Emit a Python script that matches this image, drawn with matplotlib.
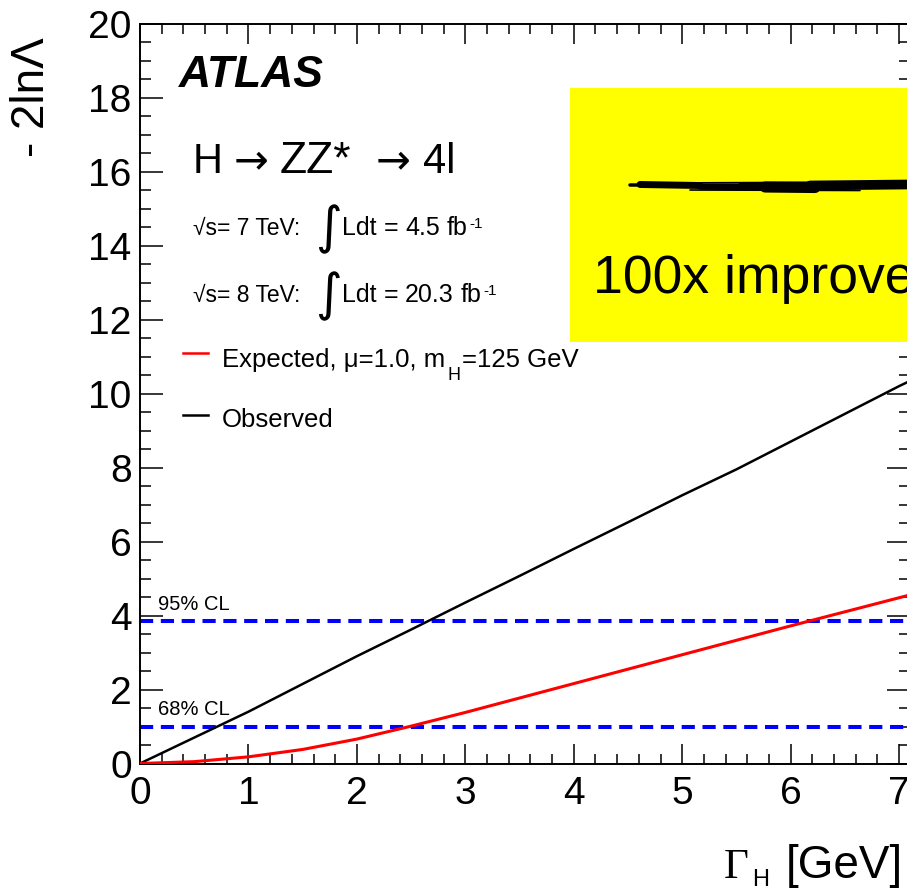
import matplotlib
matplotlib.use("Agg")
import matplotlib.pyplot as plt
from matplotlib.patches import Rectangle
from matplotlib.lines import Line2D
from matplotlib.ticker import MultipleLocator

# Likelihood scan of the Higgs width, H -> ZZ* -> 4l
gamma_h = [0.0, 0.5, 1.0, 1.5, 2.0, 2.5, 3.0, 3.5, 4.0, 4.5, 5.0, 5.5, 6.0, 6.5, 7.0, 7.5]
observed = [0.0, 0.70, 1.40, 2.15, 2.90, 3.62, 4.35, 5.07, 5.80, 6.52, 7.25, 7.95, 8.70, 9.45, 10.20, 10.90]
expected = [0.0, 0.05, 0.18, 0.38, 0.66, 1.01, 1.38, 1.77, 2.16, 2.55, 2.94, 3.33, 3.72, 4.10, 4.48, 4.86]
cl_levels = [1.0, 3.84]
cl_labels = ["68% CL", "95% CL"]
x_range = (0.0, 7.1)
y_range = (0.0, 20.0)

W, H, DPI = 907, 891, 100
SANS = ["Liberation Sans", "DejaVu Sans"]
plt.rcParams["font.family"] = SANS
plt.rcParams["lines.scale_dashes"] = False

fig = plt.figure(figsize=(W / DPI, H / DPI), dpi=DPI)
renderer = fig.canvas.get_renderer()
ax_l, ax_r, ax_t, ax_b = 140, 910, 23.5, 763.5
ax = fig.add_axes([ax_l / W, 1 - ax_b / H, (ax_r - ax_l) / W, (ax_b - ax_t) / H])

ax.plot(gamma_h, observed, color="black", lw=1.8, zorder=3)
ax.plot(gamma_h, expected, color="red", lw=2.2, zorder=3)
for lvl in cl_levels:
    ax.axhline(lvl, color="#0000ff", lw=2.9, dashes=(9.5, 5.5), zorder=2)

ax.set_xlim(*x_range)
ax.set_ylim(*y_range)
ax.xaxis.set_major_locator(MultipleLocator(1))
ax.xaxis.set_minor_locator(MultipleLocator(0.2))
ax.yaxis.set_major_locator(MultipleLocator(2))
ax.yaxis.set_minor_locator(MultipleLocator(0.5))
ax.tick_params(axis="both", which="both", direction="in", top=True, right=True, width=1.1)
ax.tick_params(axis="x", which="major", length=14.4, labelsize=28, pad=9)
ax.tick_params(axis="x", which="minor", length=7.2)
ax.tick_params(axis="y", which="major", length=16.5, labelsize=28, pad=6)
ax.tick_params(axis="y", which="minor", length=7.6)
for sp in ax.spines.values():
    sp.set_linewidth(1.4)


def px(x, y):
    return x / W, 1 - y / H


def ftext(x, y, s, **kw):
    kw.setdefault("va", "baseline")
    kw.setdefault("ha", "left")
    kw.setdefault("zorder", 12)
    return fig.text(*px(x, y), s, **kw)


def run(x, y, pieces):
    """Place text pieces one after another along a baseline."""
    for s, dy, gap, kw in pieces:
        t = ftext(x + gap, y + dy, s, **kw)
        x = t.get_window_extent(renderer).x1
    return x


# axis titles
fig.text(*px(32, 37), "- 2ln\u039b", rotation=90, ha="center", va="top", fontsize=33)
ftext(724, 878, "\u0393", fontsize=31, family=["Liberation Serif", "DejaVu Serif"])
ftext(752, 886, "H", fontsize=17)
ftext(786, 878, "[GeV]", fontsize=33)

# labels inside the frame
ftext(179, 87, "ATLAS", fontsize=32, weight="bold", style="italic")
arrow = dict(fontsize=30, family=["DejaVu Sans"])
for xpos, piece, kw in [(193, "H", dict(fontsize=30)), (234, "\u2192", arrow),
                        (280, "ZZ*", dict(fontsize=32)),
                        (376, "\u2192", arrow), (423, "4l", dict(fontsize=30))]:
    ftext(xpos, 173, piece, **kw)

for base, energy, lumi in [(235, "7", "4.5"), (302, "8", "20.3")]:
    ftext(193, base, "\u221as= %s TeV:" % energy, fontsize=16.5)
    fig.text(*px(328, base - 6), "\u222b", fontsize=37, ha="center", va="center",
             family=["DejaVu Sans"], zorder=12)
    run(342, base, [
        ("Ldt", 0, 0, dict(fontsize=18)),
        ("=", 0, 7, dict(fontsize=18)),
        (lumi, 0, 7, dict(fontsize=18)),
        ("fb", 0, 7, dict(fontsize=18)),
        ("-1", -7, 2, dict(fontsize=11)),
    ])

fig.add_artist(Line2D([183 / W, 208 / W], [1 - 353 / H] * 2, color="red", lw=1.8))
run(222, 367, [
    ("Expected, \u03bc=1.0, m", 0, 0, dict(fontsize=18.5)),
    ("H", 13, 2, dict(fontsize=13)),
    ("=125 GeV", 0, 2, dict(fontsize=18.5)),
])
fig.add_artist(Line2D([183 / W, 208 / W], [1 - 415 / H] * 2, color="black", lw=1.8))
ftext(222, 427, "Observed", fontsize=18.5)

for lvl, lab in zip(cl_levels, cl_labels):
    ax.text(0.17, lvl + 0.3, lab, fontsize=14.5, ha="left", va="baseline")

# highlight box
fig.add_artist(Rectangle(px(570, 342), (W - 570) / W + 0.01, (342 - 88) / H,
                         transform=fig.transFigure, facecolor="#ffff00",
                         edgecolor="none", zorder=10))
strokes = [
    ((630, 185.0), (907, 185.5), 2.5),
    ((640, 184.5), (700, 185.5), 5.0),
    ((700, 187.0), (770, 187.5), 4.0),
    ((765, 187.0), (815, 187.5), 8.0),
    ((810, 185.5), (907, 184.5), 7.0),
    ((660, 183.0), (880, 182.0), 1.2),
    ((690, 190.0), (860, 190.5), 1.2),
    ((740, 185.0), (900, 186.0), 3.0),
]
for (x0, y0), (x1, y1), lw in strokes:
    fig.add_artist(Line2D([x0 / W, x1 / W], [1 - y0 / H, 1 - y1 / H], color="black",
                          lw=lw, solid_capstyle="round", zorder=11))
ftext(593, 293, "100x improvement", fontsize=38.5)

fig.savefig("out.png", dpi=DPI)
